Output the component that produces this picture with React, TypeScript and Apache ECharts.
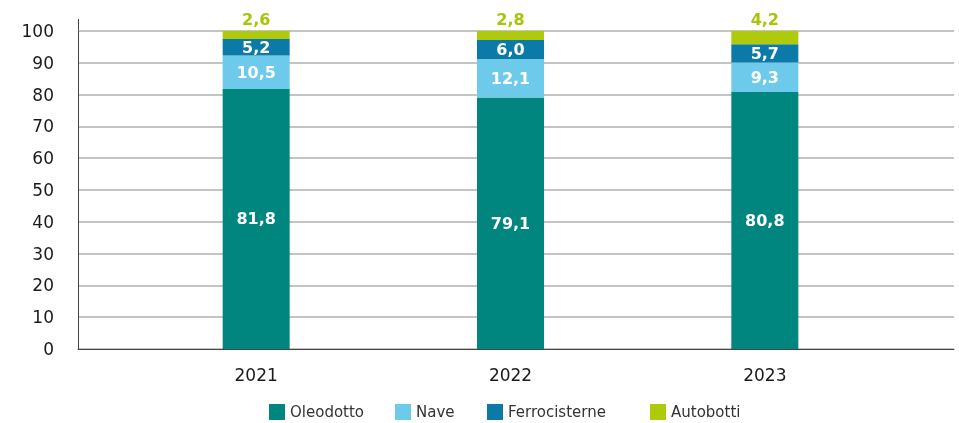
import React, { useEffect, useRef } from "react";
import * as echarts from "echarts";

const categories = ["2021", "2022", "2023"];
const oleodotto = [81.8, 79.1, 80.8];
const nave = [10.5, 12.1, 9.3];
const ferrocisterne = [5.2, 6.0, 5.7];
const autobotti = [2.6, 2.8, 4.2];
const seriesNames = ["Oleodotto", "Nave", "Ferrocisterne", "Autobotti"];
const yTicks = { min: 0, max: 100, interval: 10 };

const FONT = "DejaVu Sans";
const colors = ["#00857f", "#6ecaea", "#0b7aa8", "#afca0b"];

const fmt = (v: number) => v.toFixed(1).replace(".", ",");

export default function App() {
  const ref = useRef<HTMLDivElement>(null);
  useEffect(() => {
    if (!ref.current) return;
    const chart = echarts.init(ref.current, null, { renderer: "svg" });
    const insideLabel = {
      show: true,
      position: "inside",
      color: "#ffffff",
      fontFamily: FONT,
      fontWeight: "bold",
      fontSize: 16,
      formatter: (p: any) => fmt(p.value),
    };
    const values = [oleodotto, nave, ferrocisterne, autobotti];
    const legendLefts = [269, 395, 487, 650];
    chart.setOption({
      animation: false,
      textStyle: { fontFamily: FONT },
      grid: [
        { left: 78, right: 5, top: 31, height: 318 },
        { left: 129, width: 763, top: 31, height: 318 },
      ],
      graphic: [
        {
          type: "line",
          shape: { x1: 78.5, y1: 19, x2: 78.5, y2: 31 },
          style: { stroke: "#444", lineWidth: 1 },
          silent: true,
        },
      ],
      xAxis: [
        {
          gridIndex: 0,
          type: "value",
          min: 0,
          max: 1,
          axisLabel: { show: false },
          axisTick: { show: false },
          splitLine: { show: false },
          axisLine: { show: true, lineStyle: { color: "#444", width: 1 } },
        },
        {
          gridIndex: 1,
          type: "category",
          data: categories,
          axisLine: { show: false },
          axisTick: { show: false },
          axisLabel: { color: "#1a1a1a", fontSize: 17, fontFamily: FONT, margin: 17 },
        },
      ],
      yAxis: [
        {
          gridIndex: 0,
          type: "value",
          min: yTicks.min,
          max: yTicks.max,
          interval: yTicks.interval,
          axisLine: { show: true, lineStyle: { color: "#444", width: 1 } },
          axisTick: { show: false },
          axisLabel: { color: "#1a1a1a", fontSize: 17, fontFamily: FONT, margin: 24 },
          splitLine: { show: true, lineStyle: { color: "#b0b0b0", width: 1.5 } },
        },
        {
          gridIndex: 1,
          type: "value",
          min: yTicks.min,
          max: yTicks.max,
          show: false,
        },
      ],
      legend: seriesNames.map((n, i) => ({
        data: [n],
        left: legendLefts[i],
        top: 404,
        padding: 0,
        itemWidth: 16,
        itemHeight: 16,
        icon: "rect",
        selectedMode: false,
        textStyle: { color: "#333", fontSize: 15, fontFamily: FONT },
      })),
      series: seriesNames.map((n, i) => ({
        name: n,
        type: "bar",
        stack: "total",
        xAxisIndex: 1,
        yAxisIndex: 1,
        barWidth: 67,
        data: values[i],
        itemStyle: { color: colors[i] },
        label:
          i === 3
            ? {
                show: true,
                position: "top",
                distance: 4,
                color: "#a8c40a",
                fontFamily: FONT,
                fontWeight: "bold",
                fontSize: 16,
                formatter: (p: any) => fmt(p.value),
              }
            : insideLabel,
      })),
    });
    return () => chart.dispose();
  }, []);
  return (
    <div
      ref={ref}
      style={{ position: "fixed", left: 0, top: 0, width: 959, height: 423 }}
    />
  );
}
